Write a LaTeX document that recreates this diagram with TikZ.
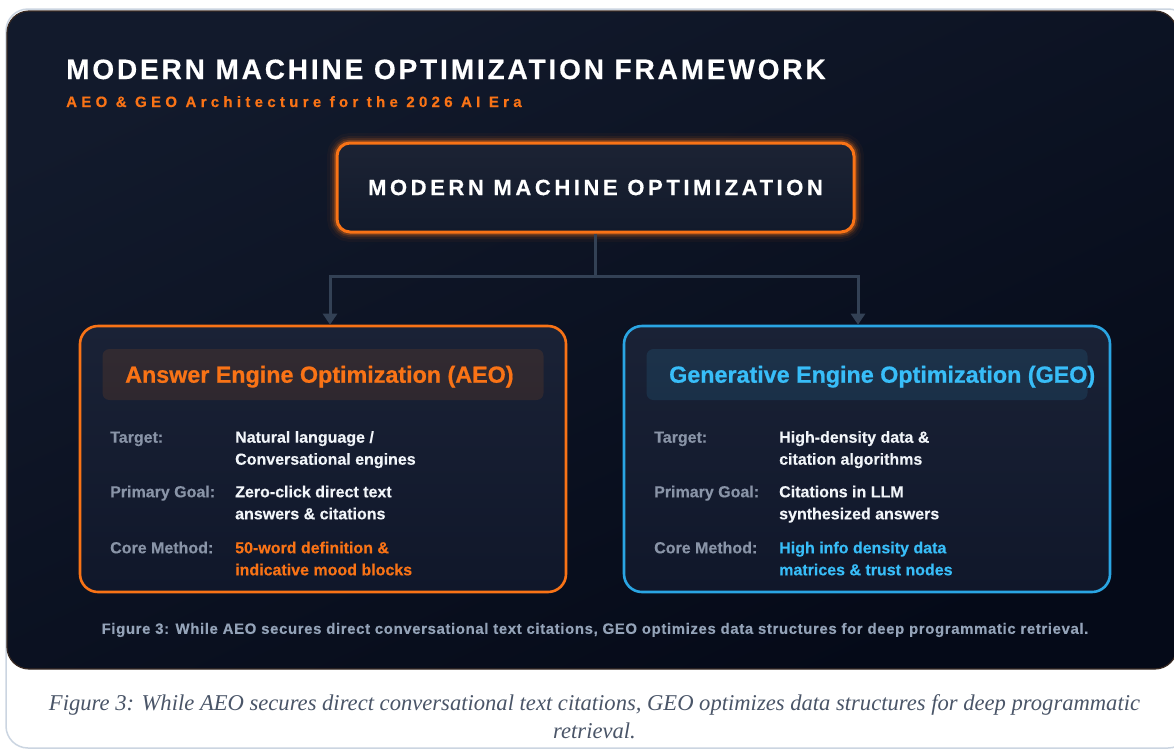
\documentclass[tikz,border=0pt]{standalone}
\usepackage{fontspec}
\setmainfont{Liberation Sans}
\newfontfamily\capserif{Liberation Serif}
\usetikzlibrary{arrows.meta}
\definecolor{orng}{HTML}{F97316}
\definecolor{skyb}{HTML}{38BDF8}
\definecolor{skyborder}{HTML}{2AA5E3}
\definecolor{lblgray}{HTML}{8994A7}
\definecolor{valwhite}{HTML}{F1F5F9}
\definecolor{connc}{HTML}{334155}
\definecolor{figgray}{HTML}{94A3B8}
\definecolor{capgray}{HTML}{4A5568}
\definecolor{cardborder}{HTML}{CBD5E1}
\definecolor{panelA}{HTML}{121A2C}
\definecolor{panelB}{HTML}{050A18}
\definecolor{paneledge}{HTML}{3A2B24}
\definecolor{boxA}{HTML}{1A2236}
\definecolor{boxB}{HTML}{10172A}
\definecolor{topA}{HTML}{1C2334}
\definecolor{topB}{HTML}{121A2B}
\begin{document}
\begin{tikzpicture}[x=1pt,y=-1pt,
  titletext/.style={anchor=base west, inner sep=0pt, text=white,
    font={\fontsize{28}{34}\selectfont\bfseries\addfontfeature{LetterSpace=10.2,FakeBold=0.5}}},
  subtext/.style={anchor=base west, inner sep=0pt, text=orng,
    font={\fontsize{15}{18}\selectfont\bfseries\addfontfeature{LetterSpace=28.7,FakeBold=0.4}}},
  topbox/.style={rounded corners=13pt, draw=orng, line width=3pt,
    top color=topA, bottom color=topB, minimum width=517pt, minimum height=89pt,
    inner sep=0pt, text=white,
    font={\fontsize{22}{26}\selectfont\bfseries\addfontfeature{LetterSpace=16.3,FakeBold=0.5}},
    preaction={draw=orng, line width=20pt, draw opacity=0.04},
    preaction={draw=orng, line width=14pt, draw opacity=0.08},
    preaction={draw=orng, line width=10pt, draw opacity=0.13},
    preaction={draw=orng, line width=6.5pt, draw opacity=0.28}},
  engbox/.style={rounded corners=18pt, line width=2.6pt,
    top color=boxA, bottom color=boxB, minimum width=486pt, minimum height=266pt,
    inner sep=0pt},
  headbar/.style={rounded corners=7pt, minimum width=441pt, minimum height=51pt,
    inner sep=0pt, fill opacity=0.11},
  headtext/.style={anchor=base west, inner sep=0pt,
    font={\fontsize{23.3}{27}\selectfont\bfseries\addfontfeature{FakeBold=0.8}}},
  lbl/.style={anchor=base west, inner sep=0pt, text=lblgray,
    font={\fontsize{16}{19}\selectfont\bfseries\addfontfeature{FakeBold=0.3}}},
  val/.style={anchor=base west, inner sep=0pt, text=valwhite,
    font={\fontsize{16}{19}\selectfont\bfseries\addfontfeature{FakeBold=0.3}}},
  conn/.style={draw=connc, line width=3pt, line join=miter},
  figtext/.style={inner sep=0pt, text=figgray,
    font={\fontsize{15}{18}\selectfont\bfseries\addfontfeature{LetterSpace=4,FakeBold=0.2}}},
  captext/.style={inner sep=0pt, text=capgray,
    font={\fontsize{22.6}{27}\selectfont\capserif\itshape}}
]
\useasboundingbox (0,0) rectangle (1174,750);
\fill[white] (0,0) rectangle (1174,750);
% outer card
\draw[cardborder, line width=1.5pt, fill=white, rounded corners=22pt] (6,9) rectangle (1190,748);
% dark panel
\shade[rounded corners=22pt, top color=panelA, bottom color=panelB, shading angle=25]
  (7,11) rectangle (1177,669);
\draw[paneledge, line width=1.2pt, rounded corners=22pt] (7,11) rectangle (1177,669);

% title
\node[titletext] (title) at (66,79) {MODERN MACHINE OPTIMIZATION FRAMEWORK};
\node[subtext] (subtitle) at (66,107) {AEO \& GEO Architecture for the 2026 AI Era};

% top box
\node[topbox] (top) at (595.5,187.5) {MODERN MACHINE OPTIMIZATION};

% engine boxes
\node[engbox, draw=orng] (aeo) at (323,459) {};
\node[engbox, draw=skyborder] (geo) at (867,459) {};

\node[headbar, fill=orng] (aeohead) at (323,374.5) {};
\node[headbar, fill=skyb] (geohead) at (867,374.5) {};
\node[headtext, text=orng] (aeotitle) at (125,382.7) {Answer Engine Optimization (AEO)};
\node[headtext, text=skyb] (geotitle) at (669,382.7) {Generative Engine Optimization (GEO)};

% AEO rows
\node[lbl] (aeoL1) at (110,442.7) {Target:};
\node[val] (aeoV1a) at (235,442.7) {Natural language /};
\node[val] (aeoV1b) at (235,464.7) {Conversational engines};
\node[lbl] (aeoL2) at (110,497.3) {Primary Goal:};
\node[val] (aeoV2a) at (235,497.3) {Zero-click direct text};
\node[val] (aeoV2b) at (235,519.3) {answers \& citations};
\node[lbl] (aeoL3) at (110,553.3) {Core Method:};
\node[val, text=orng] (aeoV3a) at (235,553.3) {50-word definition \&};
\node[val, text=orng] (aeoV3b) at (235,575.3) {indicative mood blocks};

% GEO rows
\node[lbl] (geoL1) at (654,442.7) {Target:};
\node[val] (geoV1a) at (779,442.7) {High-density data \&};
\node[val] (geoV1b) at (779,464.7) {citation algorithms};
\node[lbl] (geoL2) at (654,497.3) {Primary Goal:};
\node[val] (geoV2a) at (779,497.3) {Citations in LLM};
\node[val] (geoV2b) at (779,519.3) {synthesized answers};
\node[lbl] (geoL3) at (654,553.3) {Core Method:};
\node[val, text=skyb] (geoV3a) at (779,553.3) {High info density data};
\node[val, text=skyb] (geoV3b) at (779,575.3) {matrices \& trust nodes};

% connectors
\coordinate (split) at (595.5,276);
\draw[conn] (top.south) -- (split);
\draw[conn, -{Triangle[width=14pt,length=11pt]}] (split) -| ([xshift=7pt]aeo.north);
\draw[conn, -{Triangle[width=14pt,length=11pt]}] (split) -| ([xshift=-9pt]geo.north);

% inner figure caption
\node[figtext] (figcap) at (595,630) {Figure 3: While AEO secures direct conversational text citations, GEO optimizes data structures for deep programmatic retrieval.};

% outer caption
\node[captext, anchor=base] (cap1) at (594.5,710) {Figure 3: While AEO secures direct conversational text citations, GEO optimizes data structures for deep programmatic};
\node[captext, anchor=base] (cap2) at (594.5,738) {retrieval.};
\end{tikzpicture}
\end{document}
